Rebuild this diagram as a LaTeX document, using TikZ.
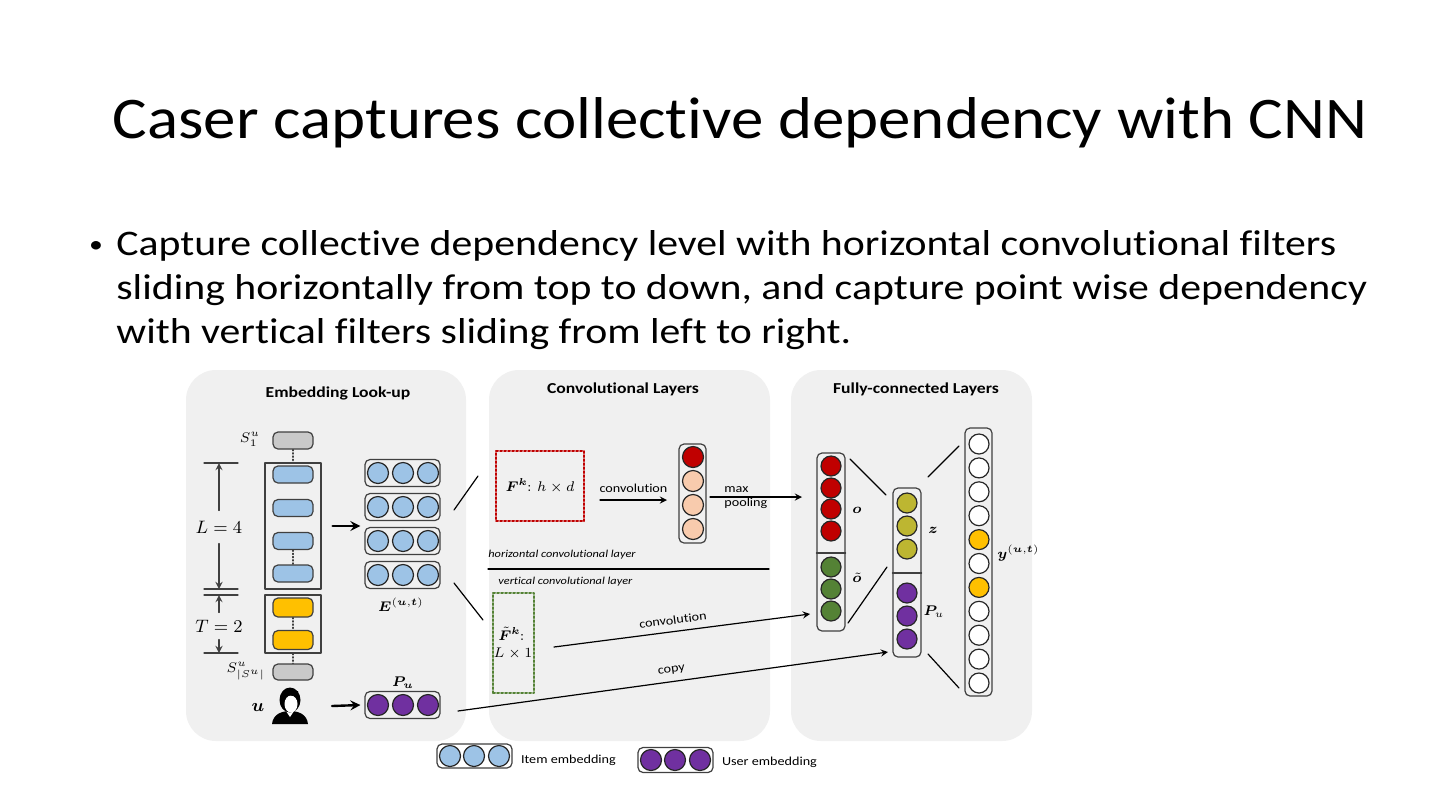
\documentclass[tikz,border=0pt]{standalone}
\usepackage[no-math]{fontspec}
\setmainfont{Carlito}[FakeStretch=1.16,Ligatures=NoCommon]
\newfontfamily\titlefont{Carlito}[FakeStretch=1.1,Ligatures=NoCommon]
\usepackage{amsmath,bm}
\definecolor{panelgray}{HTML}{F0F0F0}
\definecolor{edge}{HTML}{404040}
\definecolor{itemblue}{HTML}{9DC3E6}
\definecolor{seqgray}{HTML}{C9C9C9}
\definecolor{tgtgold}{HTML}{FFC000}
\definecolor{userpurple}{HTML}{7030A0}
\definecolor{hred}{HTML}{C00000}
\definecolor{peach}{HTML}{F8CBAD}
\definecolor{vgreen}{HTML}{548235}
\definecolor{zolive}{HTML}{BDB631}
\tikzset{
  panel/.style={fill=panelgray,rounded corners=15pt},
  ptitle/.style={anchor=base,font=\fontsize{7.6}{9}\selectfont\bfseries},
  bul/.style={anchor=base west,font=\fontsize{18}{21}\selectfont,inner sep=0pt},
  slot/.style={draw=edge,rounded corners=2.5pt,minimum width=20pt,minimum height=8.5pt,inner sep=0pt,line width=0.6pt},
  vec/.style={draw=edge,rounded corners=2.5pt,inner sep=0pt,line width=0.6pt},
  cell/.style={circle,draw=black!85,line width=0.6pt,minimum size=10.5pt,inner sep=0pt},
  dots/.style={densely dotted,draw=edge,line width=0.6pt},
  mlbl/.style={font=\fontsize{7.2}{8}\selectfont,inner sep=1pt},
  tlbl/.style={font=\fontsize{6.1}{7}\selectfont},
  link/.style={line width=0.6pt},
  flow/.style={->,line width=0.6pt},
  bigflow/.style={->,line width=1.2pt},
}
\begin{document}
\begin{tikzpicture}[>=stealth,line cap=round,line join=round,x=0.5pt,y=-0.5pt]
\fill[white] (0,0) rectangle (1440,810);
\useasboundingbox (0,0) rectangle (1440,810);

% title and bullet text
\node[anchor=base,font=\fontsize{29.5}{35}\titlefont] (title) at (740,138) {Caser captures collective dependency with CNN};
\node[anchor=base,inner sep=0pt,font=\fontsize{12}{14}\selectfont] (dot) at (96,252) {\textbullet};
\node[bul] (b1) at (116,255) {Capture collective dependency level with horizontal convolutional filters};
\node[bul] (b2) at (116,299) {sliding horizontally from top to down, and capture point wise dependency};
\node[bul] (b3) at (116,343) {with vertical filters sliding from left to right.};

% panels
\path[panel] (186,370) rectangle (466,741);
\path[panel] (489,370) rectangle (770,741);
\path[panel] (791,370) rectangle (1032,741);
\node[ptitle] (t1) at (338,397) {Embedding Look-up};
\node[ptitle] (t2) at (623,393) {Convolutional Layers};
\node[ptitle] (t3) at (916,393) {Fully-connected Layers};

% embedding look-up
\node[draw=edge,line width=0.6pt,minimum width=28pt,minimum height=63pt] (Lbox) at (293,526) {};
\node[draw=edge,line width=0.6pt,minimum width=28pt,minimum height=29pt] (Tbox) at (293,624) {};
\node[slot,fill=seqgray] (s1) at (293,440.5) {};
\node[slot,fill=itemblue] (e1) at (293,474.5) {};
\node[slot,fill=itemblue] (e2) at (293,508) {};
\node[slot,fill=itemblue] (e3) at (293,541) {};
\node[slot,fill=itemblue] (e4) at (293,573.5) {};
\node[slot,fill=tgtgold,minimum height=9.5pt] (g1) at (293,607.5) {};
\node[slot,fill=tgtgold,minimum height=9.5pt] (g2) at (293,640) {};
\node[slot,fill=seqgray,minimum height=8pt] (sN) at (293,672) {};
\draw[dots] (s1) -- (Lbox);
\draw[dots] (e3) -- (e4);
\draw[dots] (g1) -- (g2);
\draw[dots] (Tbox) -- (sN);
\node[mlbl] (s1l) at (250,439) {$S_1^u$};
\node[mlbl] (sNl) at (246,671) {$S^u_{|S^u|}$};

\draw[edge,line width=0.6pt] (204,463) -- (238,463);
\draw[edge,line width=0.6pt] (204,589) -- (238,589);
\draw[edge,line width=0.6pt] (204,595) -- (238,595);
\draw[edge,line width=0.6pt] (204,653) -- (238,653);
\coordinate (Ltop) at (219,463);
\coordinate (Lbot) at (219,589);
\coordinate (Ttop) at (219,595);
\coordinate (Tbot) at (219,653);
\node[font=\fontsize{9.4}{10}\selectfont,inner sep=5pt] (Llbl) at (219,527) {$L=4$};
\node[font=\fontsize{9.4}{10}\selectfont,inner sep=3.5pt] (Tlbl) at (219,626) {$T=2$};
\draw[flow,edge] (Llbl) -- (Ltop);
\draw[flow,edge] (Llbl) -- (Lbot);
\draw[flow,edge] (Tlbl) -- (Ttop);
\draw[flow,edge] (Tlbl) -- (Tbot);

% user icon
\coordinate (user) at (290,706);
\node[font=\fontsize{9.4}{10}\selectfont] (ulbl) at (258,707) {$\bm{u}$};
\begin{scope}[shift={(user)}]
  \fill[black] (-18,18) .. controls (-17,8) and (-8,5) .. (0,5) .. controls (8,5) and (17,8) .. (18,18) -- cycle;
  \fill[white] (-4,5) -- (4,5) -- (0,11) -- cycle;
  \fill[black] (0,-6) ellipse [x radius=10.5, y radius=12.5];
  \fill[white] (1,-2) ellipse [x radius=6.5, y radius=8.5];
  \fill[black] (-7,-6) .. controls (-4,-12) and (3,-13) .. (8,-6) -- (8,-15) -- (-7,-15) -- cycle;
\end{scope}

% embedding matrix and user vector
\foreach \r/\yy in {1/473,2/507,3/541,4/575} {
  \node[vec,minimum width=37.5pt,minimum height=13.5pt] (row\r) at (402.5,\yy) {};
  \foreach \c/\xx in {1/378,2/403,3/428}
    \node[cell,fill=itemblue] (row\r-\c) at (\xx,\yy) {};
}
\node[vec,minimum width=37.5pt,minimum height=13.5pt] (urow) at (402.5,705) {};
\foreach \c/\xx in {1/378,2/403,3/428}
  \node[cell,fill=userpurple] (urow-\c) at (\xx,705) {};
\node[mlbl] (Elbl) at (401,605) {$\bm{E}^{(\bm{u},\bm{t})}$};
\node[mlbl] (Plbl) at (403,683) {$\bm{P}_{\bm{u}}$};
\draw[bigflow] ([xshift=5.5pt]Lbox.east) -- ([xshift=-2pt]Lbox.east -| row1.west);
\draw[bigflow] ([xshift=21pt]user) -- ([xshift=-2pt]urow.west);
\draw[link] (454,510) -- (478,476);
\draw[link] (454,583) -- (483,620);

% convolutional layers
\node[draw=hred,densely dotted,line width=1pt,minimum width=44pt,minimum height=35pt,mlbl] (fh) at (540,486) {$\bm{F}^{\bm{k}}\!\colon h\times d$};
\coordinate (cva) at (600,500);
\coordinate (cvb) at (667,500);
\draw[flow] (cva) -- node[above,tlbl] {convolution} (cvb);
\node[vec,minimum width=13.5pt,minimum height=49.5pt] (ccol) at (692.5,493.5) {};
\node[cell,fill=hred] (c1) at (693,457) {};
\foreach \i/\yy in {2/481,3/505,4/529}
  \node[cell,fill=peach] (c\i) at (693,\yy) {};
\node[tlbl,anchor=west,align=left,inner sep=0pt] (mp) at (724,498) {max\\pooling};
\coordinate (mpa) at (710,497);
\coordinate (mpb) at (802,497);
\draw[flow] (mpa) -- (mpb);
\node[anchor=west,inner sep=0pt,font=\fontsize{5.3}{6}\selectfont\itshape] (hl) at (488,555) {horizontal convolutional layer};
\draw[line width=0.6pt] (488,569) -- (769,569);
\node[anchor=west,inner sep=0pt,font=\fontsize{5.3}{6}\selectfont\itshape] (vl) at (498,582) {vertical convolutional layer};
\node[draw=vgreen,densely dotted,line width=1pt,minimum width=20.5pt,minimum height=50pt,inner sep=0pt] (fv) at (513.5,643) {};
\node[mlbl] (fvk) at (514,634) {$\tilde{\bm{F}}^{\bm{k}}\!\colon$};
\node[mlbl] (fvd) at (513,654) {$L\times1$};

% fully-connected layers
\node[vec,minimum width=14pt,minimum height=89pt] (ocol) at (831,542) {};
\draw[edge,line width=0.6pt] (ocol.west |- 0,553) -- (ocol.east |- 0,553);
\foreach \i/\yy in {1/466,2/488,3/509,4/531}
  \node[cell,fill=hred,minimum size=10pt] (o\i) at (831,\yy) {};
\foreach \i/\yy in {1/567,2/589,3/611}
  \node[cell,fill=vgreen,minimum size=10pt] (og\i) at (831,\yy) {};
\node[mlbl] (olbl) at (857,510) {$\bm{o}$};
\node[mlbl] (oglbl) at (857,578) {$\tilde{\bm{o}}$};

\node[vec,minimum width=14pt,minimum height=84.5pt] (zcol) at (907,572.5) {};
\draw[edge,line width=0.6pt] (zcol.west |- 0,573) -- (zcol.east |- 0,573);
\foreach \i/\yy in {1/503,2/526,3/549}
  \node[cell,fill=zolive,minimum size=10pt] (z\i) at (907,\yy) {};
\foreach \i/\yy in {1/593,2/616,3/639}
  \node[cell,fill=userpurple,minimum size=10pt] (zp\i) at (907,\yy) {};
\node[mlbl] (zlbl) at (933,530) {$\bm{z}$};
\node[mlbl] (zplbl) at (934,612) {$\bm{P}_u$};

\node[vec,minimum width=13.5pt,minimum height=134pt] (ycol) at (978.5,562) {};
\foreach \i in {0,...,10} {
  \pgfmathsetmacro\yy{444+23.9*\i}
  \ifnum\i=4 \def\yfill{tgtgold}\else\ifnum\i=6 \def\yfill{tgtgold}\else\def\yfill{white}\fi\fi
  \node[cell,fill=\yfill,minimum size=10pt] (y\i) at (979,\yy) {};
}
\node[mlbl,anchor=west] (ylbl) at (995,553) {$\bm{y}^{(\bm{u},\bm{t})}$};

\draw[link] (850,459) -- (886,495);
\draw[link] (848,623) -- (887,567);
\draw[link] (928,477) -- (959,446);
\draw[link] (928,654) -- (959,688);

% connectors into the fully-connected layers
\coordinate (cv0) at (554,647);
\coordinate (cv1) at (810,614);
\draw[flow] (cv0) -- node[sloped,above,tlbl,pos=0.47] {convolution} (cv1);
\coordinate (cp0) at (458,711);
\coordinate (cp1) at (888,652);
\draw[flow] (cp0) -- node[sloped,above,tlbl,pos=0.5] {copy} (cp1);

% legend
\node[vec,minimum width=37.5pt,minimum height=12pt] (leg1) at (474.5,756) {};
\foreach \c/\xx in {1/450,2/474,3/499}
  \node[cell,fill=itemblue] (leg1-\c) at (\xx,756) {};
\node[tlbl,anchor=west] (leg1t) at (514,760) {Item embedding};
\node[vec,minimum width=37.5pt,minimum height=12.5pt] (leg2) at (675.5,760) {};
\foreach \c/\xx in {1/651,2/675,3/700}
  \node[cell,fill=userpurple] (leg2-\c) at (\xx,760) {};
\node[tlbl,anchor=west] (leg2t) at (715,762) {User embedding};
\end{tikzpicture}
\end{document}
